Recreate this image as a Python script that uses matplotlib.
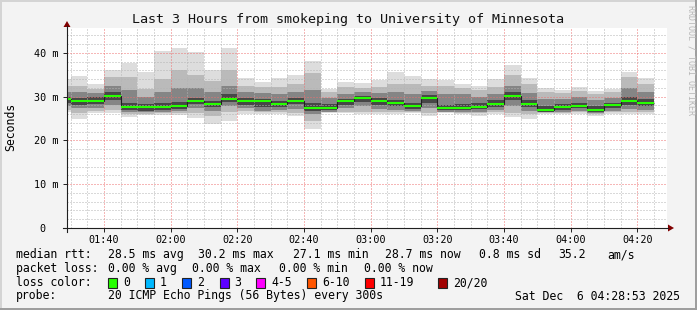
import numpy as np
import matplotlib
matplotlib.use("Agg")
import matplotlib.pyplot as plt
from matplotlib.patches import Rectangle, Polygon
from matplotlib.lines import Line2D
from matplotlib.ticker import FixedLocator, MultipleLocator

# Smoke data, one value per 5 minute step (first step 01:25, only partly visible)
first_step = "01:25"
step_min = 5

median = [29.4, 28.9, 29.1, 30.2, 27.7, 27.7, 27.7, 27.9, 29.1, 28.3, 29.5, 28.9,
          28.9, 28.3, 29.1, 27.5, 27.5, 28.9, 29.6, 29.1, 28.6, 27.9, 29.6, 27.5,
          27.5, 27.7, 28.4, 30.2, 28.4, 27.0, 27.7, 27.9, 27.0, 28.0, 29.1, 28.6]
loss = [0] * 36

# outer smoke (fastest / slowest ping)
lo1 = [26.6, 24.8, 26.2, 26.2, 25.4, 25.8, 25.8, 25.8, 25.1, 23.7, 24.5, 26.0,
       26.0, 26.0, 25.6, 22.7, 26.2, 26.2, 26.0, 26.0, 26.0, 26.3, 25.6, 26.2,
       26.0, 25.6, 26.0, 25.4, 24.9, 26.0, 26.0, 26.0, 25.6, 26.0, 26.0, 26.0]
hi1 = [34.1, 34.7, 32.8, 36.1, 37.8, 35.7, 40.5, 41.2, 40.1, 36.0, 41.2, 34.3,
       33.4, 34.3, 35.0, 38.2, 31.8, 33.4, 33.2, 33.7, 35.7, 34.7, 34.0, 33.7,
       32.9, 32.5, 34.1, 37.3, 34.3, 32.0, 31.5, 32.2, 31.4, 31.8, 35.7, 34.3]
# inner smoke levels
lo2 = [27.0, 26.3, 26.8, 27.0, 26.0, 26.0, 26.2, 26.3, 26.3, 25.5, 26.5, 26.8,
       26.4, 26.5, 26.3, 24.5, 26.4, 26.6, 26.6, 26.5, 26.4, 26.5, 26.3, 26.4,
       26.3, 26.2, 26.5, 26.3, 26.0, 26.2, 26.3, 26.4, 26.0, 26.4, 26.4, 26.4]
hi2 = [32.5, 32.5, 31.8, 34.5, 34.5, 31.8, 34.0, 36.0, 35.0, 33.5, 36.0, 32.5,
       32.3, 32.3, 33.0, 35.5, 31.0, 32.2, 32.0, 32.3, 33.0, 32.8, 32.5, 32.5,
       32.0, 31.5, 32.3, 35.0, 33.0, 31.0, 30.8, 31.2, 30.5, 31.0, 34.5, 33.0]
lo3 = [27.8, 27.3, 27.5, 28.0, 26.5, 26.4, 26.6, 26.7, 27.3, 26.8, 27.8, 27.5,
       26.8, 27.0, 27.2, 26.0, 26.6, 27.3, 27.8, 27.2, 27.0, 26.7, 27.3, 26.6,
       26.6, 26.6, 27.0, 27.8, 26.8, 26.4, 26.6, 26.8, 26.3, 26.8, 27.2, 27.0]
hi3 = [31.0, 31.0, 30.8, 32.5, 31.5, 30.0, 31.0, 32.0, 32.0, 31.0, 32.5, 31.0,
       30.8, 30.5, 31.0, 31.5, 29.8, 30.5, 31.0, 30.8, 31.0, 30.5, 31.2, 30.5,
       30.5, 30.0, 30.6, 32.5, 30.8, 29.5, 29.5, 30.0, 29.2, 29.8, 32.0, 31.0]
lo4 = [28.6, 28.2, 28.4, 29.3, 27.0, 26.8, 27.0, 27.2, 28.3, 27.6, 28.8, 28.2,
       27.6, 27.6, 28.3, 26.8, 27.0, 28.2, 28.8, 28.0, 27.8, 27.2, 28.5, 27.0,
       27.0, 27.1, 27.6, 29.3, 27.6, 26.6, 27.0, 27.3, 26.6, 27.3, 28.2, 27.8]
hi4 = [30.0, 29.8, 30.0, 31.0, 28.5, 28.3, 28.6, 28.7, 29.8, 29.0, 30.5, 29.6,
       29.5, 29.0, 29.8, 28.5, 28.3, 29.5, 30.2, 29.7, 29.3, 28.6, 30.3, 28.2,
       28.3, 28.5, 29.2, 31.0, 29.3, 27.8, 28.3, 28.6, 27.8, 28.6, 30.0, 29.4]

x_labels = ["01:40", "02:00", "02:20", "02:40", "03:00", "03:20", "03:40", "04:00", "04:20"]
y_ticks = [0, 10, 20, 30, 40]
y_labels = ["0  ", "10 m", "20 m", "30 m", "40 m"]

loss_names = ["0", "1", "2", "3", "4-5", "6-10", "11-19", "20/20"]
loss_colors = ["#26ff00", "#00b8ff", "#0059ff", "#5e00ff", "#ff00ff", "#ff5500", "#ff0000", "#a00000"]
loss_limits = [0, 1, 2, 3, 5, 10, 19, 20]

title = "Last 3 Hours from smokeping to University of Minnesota"
t_start, t_end = "01:28:53", "04:28:53"

stats_rtt = [("median rtt:", 16), ("28.5 ms avg", 107.6), ("30.2 ms max", 198),
             ("27.1 ms min", 293), ("28.7 ms now", 385), ("0.8 ms sd", 479),
             ("35.2", 558), ("am/s", 607)]
stats_loss = [("packet loss:", 16), ("0.00 % avg", 107.6), ("0.00 % max", 192.4),
              ("0.00 % min", 279), ("0.00 % now", 364)]
probe_txt = "20 ICMP Echo Pings (56 Bytes) every 300s"
date_txt = "Sat Dec  6 04:28:53 2025"


def to_min(s):
    parts = [int(p) for p in s.split(":")]
    while len(parts) < 3:
        parts.append(0)
    return parts[0] * 60 + parts[1] + parts[2] / 60.0


W, H = 697, 310
MONO = "DejaVu Sans Mono"
plt.rcParams['font.family'] = MONO

fig = plt.figure(figsize=(W / 100, H / 100), dpi=100, facecolor="#f3f3f3")


def P(x, y):
    return (x / W, 1 - y / H)


ax = fig.add_axes([67 / W, 1 - 228 / H, 600 / W, (228 - 27.5) / H])
ax.set_facecolor("white")
for s in ax.spines.values():
    s.set_visible(False)

starts = to_min(first_step) + step_min * np.arange(len(median))

# smoke, outer band first, darker ones on top
bands = [(lo1, hi1, "#dddddd"), (lo2, hi2, "#bababa"),
         (lo3, hi3, "#858585"), (lo4, hi4, "#474747")]
for lo, hi, col in bands:
    ax.bar(starts, np.array(hi) - np.array(lo), bottom=lo, width=step_min,
           align="edge", color=col, linewidth=0, zorder=2)

# median: dark step line plus loss coloured segments
edges = np.append(starts, starts[-1] + step_min)
ax.stairs(median, edges, baseline=None, color="#202020", lw=0.8, zorder=5)
seg_cols = [loss_colors[np.searchsorted(loss_limits, l)] for l in loss]
ax.hlines(median, starts, starts + step_min, colors=seg_cols, lw=1.5, zorder=6)

ax.set_xlim(to_min(t_start), to_min(t_end))
ax.set_ylim(0, 45.8)

ax.xaxis.set_major_locator(FixedLocator([to_min(l) for l in x_labels]))
ax.set_xticklabels(x_labels)
ax.xaxis.set_minor_locator(MultipleLocator(5))
ax.set_yticks(y_ticks)
ax.set_yticklabels(y_labels)
ax.yaxis.set_minor_locator(MultipleLocator(2))

ax.tick_params(which="major", length=3, width=0.7, color="#1f1f1f", labelsize=7.3,
               direction="out")
ax.tick_params(which="minor", length=0)
ax.tick_params(axis="x", pad=2.2)
ax.tick_params(axis="y", pad=3)

ax.grid(which="minor", color="#b4b4b4", ls=(0, (1, 2)), lw=0.72, zorder=3, snap=True)
ax.grid(which="major", color="#ee7070", ls=(0, (1, 2)), lw=0.72, zorder=3, snap=True)
ax.set_axisbelow(False)

# axis lines and arrows
fig.add_artist(Line2D([P(63, 0)[0], P(668, 0)[0]], [P(0, 228)[1]] * 2,
                      transform=fig.transFigure, color="#1f1f1f", lw=0.8))
fig.add_artist(Line2D([P(67, 0)[0]] * 2, [P(0, 232)[1], P(0, 26)[1]],
                      transform=fig.transFigure, color="#1f1f1f", lw=0.8))
fig.add_artist(Polygon([P(668, 224.5), P(668, 231.5), P(674, 228)], closed=True,
                       transform=fig.transFigure, color="#800000", lw=0))
fig.add_artist(Polygon([P(63.5, 27), P(70.5, 27), P(67, 21)], closed=True,
                       transform=fig.transFigure, color="#800000", lw=0))

# frame shading
fig.add_artist(Rectangle(P(0, 2), 1, 2 / H, transform=fig.transFigure, color="#d4d4d4", lw=0))
fig.add_artist(Rectangle(P(0, 310), 2 / W, 1, transform=fig.transFigure, color="#d4d4d4", lw=0))
fig.add_artist(Rectangle(P(0, 310), 1, 2.5 / H, transform=fig.transFigure, color="#9e9e9e", lw=0))
fig.add_artist(Rectangle(P(695, 310), 2 / W, 1, transform=fig.transFigure, color="#9e9e9e", lw=0))

fig.text(*P(348, 19), title, ha="center", va="center", fontsize=9.6, color="#111111")
fig.text(*P(690.5, 60), "RRDTOOL / TOBI OETIKER", rotation=270, ha="center", va="center",
         fontsize=6.0, color="#b8b8b8")
fig.text(*P(11, 127), "Seconds", rotation=90, ha="center", va="center", fontsize=8.3)

fs = 8.3
for txt, x in stats_rtt:
    fig.text(*P(x, 254.5), txt, ha="left", va="center", fontsize=fs)
for txt, x in stats_loss:
    fig.text(*P(x, 268.5), txt, ha="left", va="center", fontsize=fs)

fig.text(*P(16, 282.5), "loss color:", ha="left", va="center", fontsize=fs)
box_x = [108, 145, 182, 219.5, 256, 307, 365, 438]
for name, col, bx in zip(loss_names, loss_colors, box_x):
    fig.add_artist(Rectangle(P(bx, 287.5), 9 / W, 10 / H, transform=fig.transFigure,
                             facecolor=col, edgecolor="#222222", lw=0.8))
    fig.text(*P(bx + 15, 282.5), name, ha="left", va="center", fontsize=fs)

fig.text(*P(16, 296), "probe:", ha="left", va="center", fontsize=fs)
fig.text(*P(107.6, 296), probe_txt, ha="left", va="center", fontsize=fs)
fig.text(*P(680, 296), date_txt, ha="right", va="center", fontsize=fs)

fig.savefig("out.png", dpi=100, facecolor=fig.get_facecolor())
